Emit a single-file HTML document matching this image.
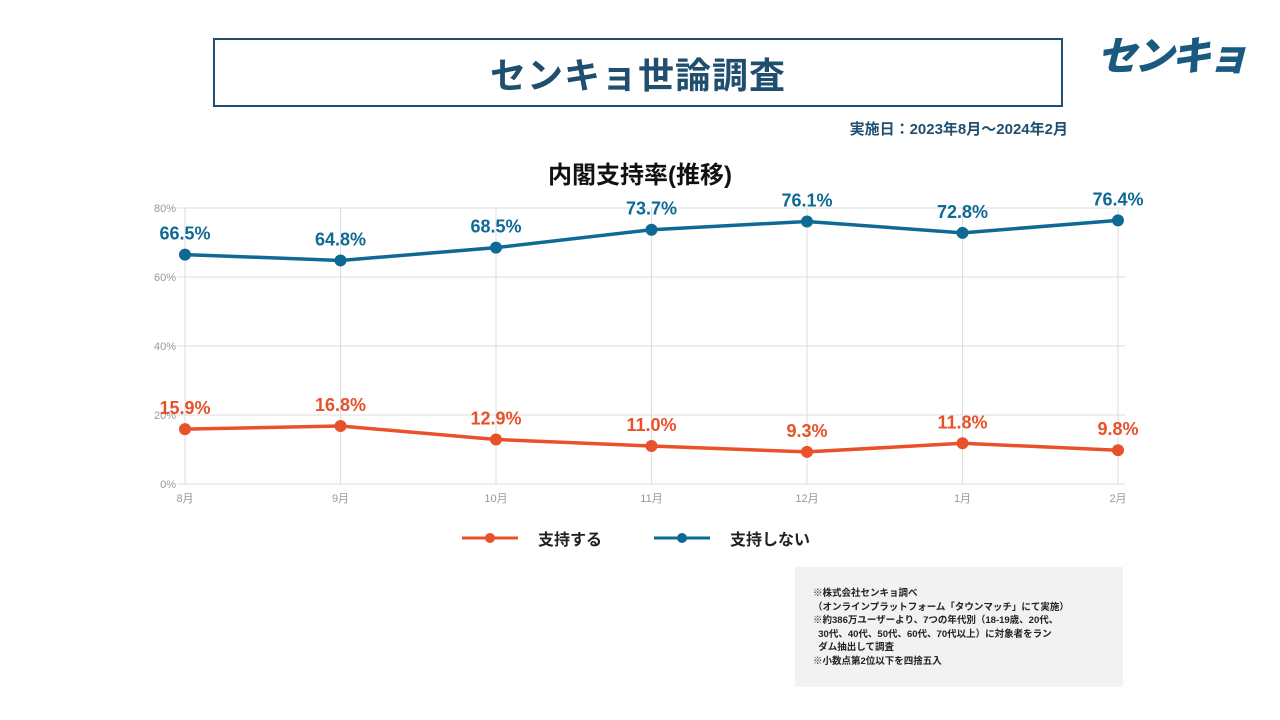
<!DOCTYPE html>
<html><head><meta charset="utf-8">
<style>
body{margin:0;width:1280px;height:720px;background:#fff;position:relative;overflow:hidden;font-family:"Liberation Sans","Noto Sans CJK JP",sans-serif}
.abs{position:absolute}
</style></head><body>
<div class="abs" style="left:213px;top:38px;width:850px;height:69px;border:2px solid #1f4e6e;box-sizing:border-box;display:flex;align-items:center;justify-content:center;font-size:36px;font-weight:bold;color:#1f4e6e;letter-spacing:1px">センキョ世論調査</div>
<div class="abs" style="left:1097px;top:24px;font-size:40px;font-weight:900;font-style:italic;color:#1b5a80;letter-spacing:-3px">センキョ</div>
<div class="abs" style="left:770px;top:118px;width:298px;text-align:right;font-size:15px;font-weight:bold;color:#1f4e6e">実施日：2023年8月～2024年2月</div>
<div class="abs" style="left:440px;top:155px;width:400px;text-align:center;font-size:24px;font-weight:bold;color:#111">内閣支持率(推移)</div>
<svg class="abs" style="left:0;top:0" width="1280" height="720" id="chart"></svg>
<div class="abs" style="left:462px;top:526px;display:flex;align-items:center;font-size:16px;font-weight:bold;color:#222">
<svg width="56" height="14"><line x1="0" y1="7" x2="56" y2="7" stroke="#e8512a" stroke-width="3"/><circle cx="28" cy="7" r="5" fill="#e8512a"/></svg><span style="margin-left:20px">支持する</span></div>
<div class="abs" style="left:654px;top:526px;display:flex;align-items:center;font-size:16px;font-weight:bold;color:#222">
<svg width="56" height="14"><line x1="0" y1="7" x2="56" y2="7" stroke="#0e6a94" stroke-width="3"/><circle cx="28" cy="7" r="5" fill="#0e6a94"/></svg><span style="margin-left:20px">支持しない</span></div>
<div class="abs" style="left:795px;top:567px;width:328px;height:120px;background:#f2f2f2;box-sizing:border-box;padding:20px 0 0 18px;font-size:9.5px;font-weight:bold;line-height:13.5px;color:#222;white-space:pre">※株式会社センキョ調べ
（オンラインプラットフォーム「タウンマッチ」にて実施）
※約386万ユーザーより、7つの年代別（18-19歳、20代、
  30代、40代、50代、60代、70代以上）に対象者をラン
  ダム抽出して調査
※小数点第2位以下を四捨五入</div>
<script>
const categories=["8月","9月","10月","11月","12月","1月","2月"];
const supportValues=[15.9,16.8,12.9,11.0,9.3,11.8,9.8];
const notSupportValues=[66.5,64.8,68.5,73.7,76.1,72.8,76.4];
const yTicks=[0,20,40,60,80];
const svg=document.getElementById('chart');
const NS='http://www.w3.org/2000/svg';
const x=i=>185+i*(1118-185)/(categories.length-1);
const y=v=>484-v*(484-208)/80;
function mk(t,a){const e=document.createElementNS(NS,t);for(const k in a)e.setAttribute(k,a[k]);svg.appendChild(e);return e;}
yTicks.forEach(t=>{const l=mk('line',{x1:177,x2:1125,y1:y(t),y2:y(t),stroke:'#ddd','stroke-width':1});


const tx=mk('text',{x:176,y:y(t)+4,'text-anchor':'end','font-size':11,fill:'#999'});tx.textContent=t+'%';

});
categories.forEach((c,i)=>{const l=mk('line',{x1:x(i),x2:x(i),y1:208,y2:484,stroke:'#ddd','stroke-width':1});


const tx=mk('text',{x:x(i),y:502,'text-anchor':'middle','font-size':11,fill:'#999'});tx.textContent=c;

});
function series(vals,color,name){
const p=mk('polyline',{points:vals.map((v,i)=>x(i)+','+y(v)).join(' '),fill:'none',stroke:color,'stroke-width':3.5});


vals.forEach((v,i)=>{const c=mk('circle',{cx:x(i),cy:y(v),r:6,fill:color});


const t=mk('text',{x:x(i),y:y(v)-15,'text-anchor':'middle','font-size':18,'font-weight':'bold',fill:color});t.textContent=v.toFixed(1)+'%';

});}
series(supportValues,'#e8512a','support');
series(notSupportValues,'#0e6a94','not-support');
</script>
</body></html>
